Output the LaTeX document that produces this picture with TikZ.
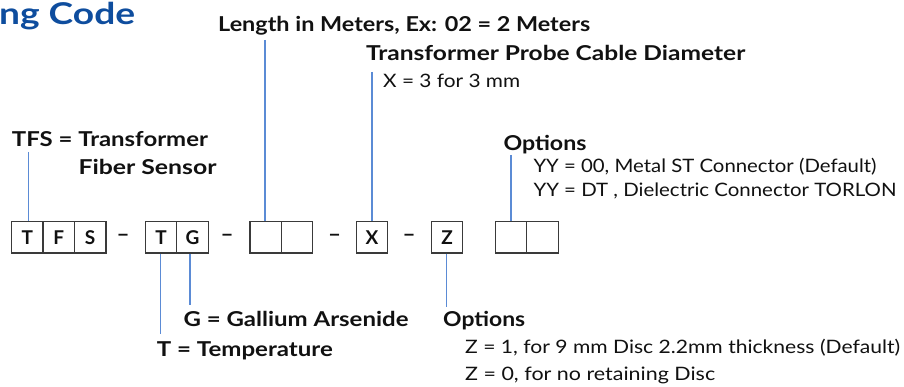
\documentclass[tikz,border=0pt]{standalone}
\usepackage{fontspec}
\setmainfont{Lato}
\usetikzlibrary{calc}
\definecolor{titleblue}{HTML}{0E4D9E}
\definecolor{linkblue}{HTML}{5B8BD5}
\definecolor{boxgray}{HTML}{3A3A3A}
\definecolor{ink}{HTML}{111111}
\newcommand{\fitw}[2]{\resizebox{#1pt}{\height}{#2}}
\begin{document}
\begin{tikzpicture}[x=1pt,y=-1pt,
  cell/.style={draw=boxgray,line width=1.3pt,minimum width=31.4pt,minimum height=31.6pt,inner sep=0pt,anchor=north west,font=\fontsize{19}{20}\selectfont\bfseries,text=ink},
  conn/.style={draw=linkblue,line width=1.2pt},
  blab/.style={anchor=base west,inner sep=0pt,text=ink,font=\fontsize{20.5}{22}\selectfont\bfseries},
  rlab/.style={anchor=base west,inner sep=0pt,text=ink,font=\fontsize{18.5}{20}\selectfont},
  dashlab/.style={anchor=base,inner sep=0pt,text=ink,font=\fontsize{21}{22}\selectfont\bfseries}]
\useasboundingbox[fill=white] (0,0) rectangle (904,387);

% title
\node[anchor=base west,inner sep=0pt,text=titleblue,font=\fontsize{30}{31}\selectfont\bfseries] (title) at (-1,25) {\fitw{136}{ng Code}};

% cells
\node[cell] (c1) at (11,220.7) {T};
\node[cell] (c2) at (42.4,220.7) {F};
\node[cell] (c3) at (73.8,220.7) {S};
\node[cell] (c4) at (144.7,220.7) {T};
\node[cell] (c5) at (176.1,220.7) {G};
\node[cell] (c6) at (249.3,220.7) {};
\node[cell] (c7) at (280.7,220.7) {};
\node[cell] (c8) at (355.7,220.7) {X};
\node[cell] (c9) at (430.7,220.7) {Z};
\node[cell] (c10) at (494.7,220.7) {};
\node[cell] (c11) at (526.1,220.7) {};

% dashes
\node[dashlab] (d1) at (123,241.5) {\fitw{13}{–}};
\node[dashlab] (d2) at (227,241.5) {\fitw{13}{–}};
\node[dashlab] (d3) at (334.5,241.5) {\fitw{13}{–}};
\node[dashlab] (d4) at (409,241.5) {\fitw{13}{–}};

% labels
\node[blab] (len) at (218,31.7) {\fitw{372}{Length in Meters, Ex: 02 = 2 Meters}};
\node[blab] (dia) at (366,61) {\fitw{379}{Transformer Probe Cable Diameter}};
\node[rlab] (diax) at (383,88) {\fitw{137}{X = 3 for 3 mm}};
\node[blab] (tfs) at (11.7,146.7) {\fitw{196}{TFS = Transformer}};
\node[blab] (tfs2) at (78.3,175) {\fitw{138}{Fiber Sensor}};
\node[blab] (opt1) at (503.3,151) {\fitw{83}{Options}};
\node[rlab] (yy1) at (533.3,173) {\fitw{343}{YY = 00, Metal ST Connector (Default)}};
\node[rlab] (yy2) at (533.3,197) {\fitw{363}{YY = DT , Dielectric Connector TORLON}};
\node[blab] (gal) at (183.3,326.7) {\fitw{225}{G = Gallium Arsenide}};
\node[blab] (tem) at (156.7,356.7) {\fitw{176}{T = Temperature}};
\node[blab] (opt2) at (443,326.7) {\fitw{82}{Options}};
\node[rlab] (z1) at (465,353) {\fitw{435}{Z = 1, for 9 mm Disc 2.2mm thickness (Default)}};
\node[rlab] (z0) at (465,380) {\fitw{250}{Z = 0, for no retaining Disc}};

% free ends of connectors
\coordinate (eTFS) at (28.5,152);
\coordinate (eLen) at (265,40);
\coordinate (eX) at (372,72);
\coordinate (eOpt) at (511,155);
\coordinate (eT) at (160.7,334);
\coordinate (eG) at (190,305);
\coordinate (eZ) at (446.7,307);

% connectors
\draw[conn] (eTFS) -- (eTFS |- c1.north);
\draw[conn] (eLen) -- (eLen |- c6.north);
\draw[conn] (eX) -- (eX |- c8.north);
\draw[conn] (eOpt) -- (eOpt |- c10.north);
\draw[conn] (eT |- c4.south) -- (eT);
\draw[conn] (eG |- c5.south) -- (eG);
\draw[conn] (eZ |- c9.south) -- (eZ);
\end{tikzpicture}
\end{document}
